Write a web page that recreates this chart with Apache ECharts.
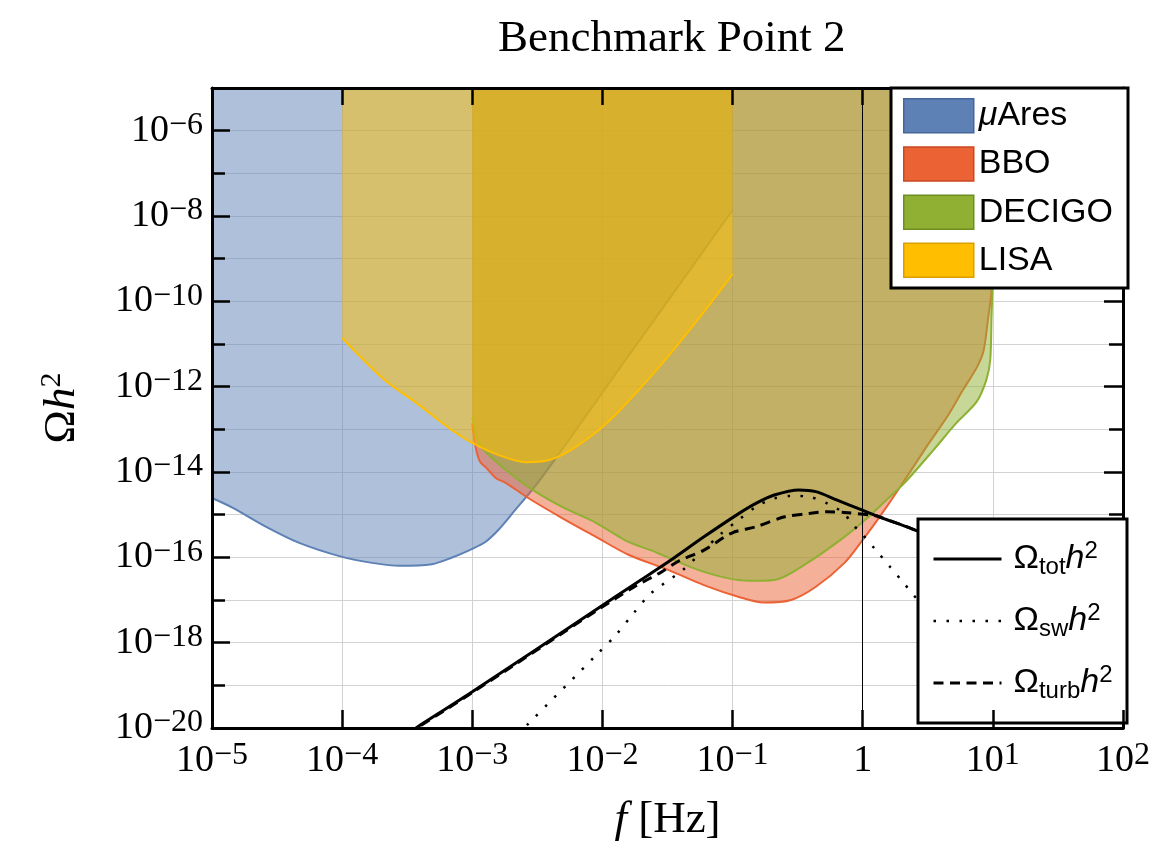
<!DOCTYPE html>
<html>
<head>
<meta charset="utf-8">
<script src="https://cdn.jsdelivr.net/npm/echarts@6/dist/echarts.min.js"></script>
<style>
  html, body { margin: 0; padding: 0; background: #fff; }
  #chart { width: 1153px; height: 850px; }
</style>
</head>
<body>
<div id="chart"></div>
<script>
// All values are decimal logarithms: log10(f / Hz) and log10(Omega h^2).

// Detector sensitivity boundaries (region above each curve is accessible)
const muAresLogF     = [-5.0, -4.84, -4.58, -4.33, -4.0, -3.77, -3.56, -3.31, -3.16, -3.0, -2.90, -2.80, -2.67, -2.54, -2.44, -2.2, -1.88, -1.50, -1.0];
const muAresLogOmega = [-14.61, -14.84, -15.29, -15.66, -15.99, -16.13, -16.20, -16.16, -16.01, -15.80, -15.64, -15.36, -14.89, -14.42, -14.02, -13.0, -11.62, -10.0, -7.86];

const bboLogF     = [-3.0, -2.975, -2.94, -2.89, -2.82, -2.74, -2.57, -2.31, -2.05, -1.80, -1.49, -1.22, -0.95, -0.76, -0.55, -0.36, -0.14, 0.0, 0.13, 0.29, 0.49, 0.65, 0.77, 0.88, 0.93, 0.965, 0.99, 1.0];
const bboLogOmega = [-12.86, -13.41, -13.76, -13.91, -14.14, -14.26, -14.61, -15.08, -15.52, -15.94, -16.30, -16.65, -16.93, -17.06, -17.0, -16.69, -16.13, -15.59, -15.05, -14.34, -13.41, -12.70, -12.08, -11.53, -11.14, -10.36, -9.73, -7.6];

const decigoLogF     = [-3.0, -2.95, -2.85, -2.57, -2.31, -2.05, -1.80, -1.63, -1.22, -0.87, -0.68, -0.41, -0.14, 0.02, 0.18, 0.32, 0.545, 0.72, 0.876, 0.95, 0.98, 0.99, 0.996, 1.0];
const decigoLogOmega = [-12.71, -13.32, -13.67, -14.35, -14.82, -15.19, -15.64, -15.83, -16.34, -16.55, -16.53, -16.10, -15.52, -15.12, -14.66, -14.26, -13.48, -12.85, -12.35, -11.84, -11.37, -10.36, -9.73, -7.6];

const lisaLogF     = [-4.0, -3.676, -3.43, -3.18, -3.0, -2.80, -2.59, -2.41, -2.24, -2.03, -1.88, -1.57, -1.27, -1.0];
const lisaLogOmega = [-10.86, -11.84, -12.38, -12.97, -13.32, -13.60, -13.77, -13.72, -13.48, -13.02, -12.60, -11.56, -10.44, -9.36];

// Gravitational-wave spectra: total, sound waves, turbulence
const totLogF     = [-3.5, -3.424, -3.0, -2.03, -1.76, -1.49, -1.22, -0.95, -0.817, -0.68, -0.49, -0.36, -0.196, -0.007, 0.126, 0.262, 0.37, 0.45];
const totLogOmega = [-20.13, -19.98, -19.15, -17.19, -16.64, -16.10, -15.52, -14.97, -14.73, -14.54, -14.42, -14.46, -14.66, -14.89, -15.05, -15.20, -15.32, -15.42];

const swLogF     = [-2.65, -2.592, -2.031, -1.897, -1.761, -1.626, -1.383, -1.249, -1.086, -0.953, -0.817, -0.682, -0.547, -0.412, -0.277, -0.142, -0.088, -0.021, 0.101, 0.209, 0.317, 0.379, 0.45];
const swLogOmega = [-20.15, -19.97, -18.24, -17.82, -17.31, -16.84, -16.30, -15.91, -15.44, -15.12, -14.81, -14.62, -14.56, -14.58, -14.73, -14.97, -15.20, -15.40, -15.83, -16.22, -16.61, -16.84, -17.1];

const turbLogF     = [-3.5, -3.424, -3.0, -2.03, -1.76, -1.545, -1.41, -1.22, -1.006, -0.817, -0.60, -0.41, -0.28, -0.14, 0.07, 0.126, 0.262, 0.37, 0.45];
const turbLogOmega = [-20.15, -20.0, -19.17, -17.22, -16.70, -16.34, -16.08, -15.83, -15.43, -15.28, -15.05, -14.97, -14.93, -14.95, -15.01, -15.05, -15.20, -15.32, -15.42];

// Axis ranges (decades)
const logFRange = [-5, 2];
const logOmegaRange = [-20, -5];

const detectorNames = ['\u03bcAres', 'BBO', 'DECIGO', 'LISA'];
const spectrumNames = ['tot', 'sw', 'turb'];

const SERIF = 'Liberation Serif';
const SANS = 'Liberation Sans';

function pairs(xs, ys) { return xs.map((x, i) => [x, ys[i]]); }

const tickRich = {
  b: { fontFamily: SERIF, fontSize: 38, lineHeight: 42, color: '#000' },
  e: { fontFamily: SERIF, fontSize: 32, lineHeight: 26, verticalAlign: 'top', color: '#000' }
};
function powLabel(v) {
  v = Math.round(v);
  if (v === 0) return '{b|1}';
  return '{b|10}{e|' + (v < 0 ? '\u2212' + (-v) : String(v)) + '}';
}

const detectorColors = ['#5E81B5', '#EB6235', '#8FB032', '#FFBF00'];
const detectorBorders = ['#46669A', '#C94820', '#6F8E22', '#D9A000'];

// stacking order of the translucent regions: later ones paint over earlier ones
function detectorSeries(name, xs, ys, color, z) {
  return {
    name: name, type: 'line', xAxisIndex: 0, yAxisIndex: 0,
    data: pairs(xs, ys), symbol: 'none', smooth: 0.3, silent: true, z: z,
    lineStyle: { color: color, width: 2 },
    itemStyle: { color: color },
    areaStyle: { origin: 'end', color: color, opacity: 0.5 }
  };
}
function spectrumSeries(name, xs, ys, type, width) {
  return {
    name: name, type: 'line', xAxisIndex: 0, yAxisIndex: 0,
    data: pairs(xs, ys), symbol: 'none', smooth: 0.3, silent: true, z: 6,
    lineStyle: { color: '#000', width: width, type: type, cap: 'butt' },
    itemStyle: { color: '#000' }
  };
}

const frame = { color: '#000', width: 3 };
const tickStyle = { color: '#000', width: 2.5 };
const gridStyle = { color: '#d2d2d2', width: 1 };
const dotPattern = [2.5, 10.5];
const dashPattern = [10, 6.5];

const option = {
  animation: false,
  backgroundColor: '#fff',
  title: {
    text: 'Benchmark Point 2', left: 493, top: 12,
    textStyle: { fontFamily: SERIF, fontSize: 45, fontWeight: 'normal', color: '#000' }
  },
  grid: { left: 212, top: 88, right: 25, bottom: 122 },
  xAxis: [
    { // bottom frame with ticks, labels and title
      type: 'value', min: logFRange[0], max: logFRange[1], interval: 1, position: 'bottom', z: 10,
      axisLine: { show: true, onZero: false, lineStyle: frame },
      axisTick: { show: true, inside: true, length: 18, lineStyle: tickStyle },
      axisLabel: { margin: 12, formatter: powLabel, rich: tickRich },
      splitLine: { show: false },
      name: '{i|f} [Hz]', nameLocation: 'middle', nameGap: 70,
      nameTextStyle: { fontFamily: SERIF, fontSize: 45, color: '#000',
        rich: { i: { fontFamily: SERIF, fontStyle: 'italic', fontSize: 45, color: '#000' } } }
    },
    { // top frame
      type: 'value', min: logFRange[0], max: logFRange[1], interval: 1, position: 'top', z: 5,
      axisLine: { show: true, onZero: false, lineStyle: frame },
      axisTick: { show: true, inside: true, length: 17, lineStyle: tickStyle },
      axisLabel: { show: false }, splitLine: { show: false }
    },
    { // vertical grid lines
      type: 'value', min: logFRange[0], max: logFRange[1], interval: 1, position: 'bottom', z: 0,
      axisLine: { show: false, onZero: false }, axisTick: { show: false }, axisLabel: { show: false },
      splitLine: { show: true, lineStyle: gridStyle }
    }
  ],
  yAxis: [
    { // horizontal grid lines
      type: 'value', min: logOmegaRange[0], max: logOmegaRange[1], interval: 1, position: 'left', z: 0,
      axisLine: { show: false, onZero: false }, axisTick: { show: false }, axisLabel: { show: false },
      splitLine: { show: true, lineStyle: gridStyle }
    },
    { // left frame, every decade
      type: 'value', min: logOmegaRange[0], max: logOmegaRange[1], interval: 1, position: 'left', z: 10,
      axisLine: { show: true, onZero: false, lineStyle: frame },
      axisTick: { show: true, inside: true, length: 13, lineStyle: tickStyle },
      axisLabel: { show: false }, splitLine: { show: false }
    },
    { // left, labelled decades
      type: 'value', min: logOmegaRange[0], max: logOmegaRange[1], interval: 2, position: 'left', z: 10,
      axisLine: { show: false, onZero: false },
      axisTick: { show: true, inside: true, length: 18, lineStyle: tickStyle },
      axisLabel: { margin: 9, formatter: v => (Math.round(v) % 2 === 0 ? powLabel(v) : ''), rich: tickRich },
      splitLine: { show: false },
      name: '{o|\u03a9}{h|h}{s|2}', nameLocation: 'middle', nameGap: 125,
      nameTextStyle: { fontFamily: SERIF, fontSize: 45, color: '#000',
        rich: {
          o: { fontFamily: SERIF, fontSize: 45, lineHeight: 50, color: '#000' },
          h: { fontFamily: SERIF, fontStyle: 'italic', fontSize: 45, lineHeight: 50, color: '#000' },
          s: { fontFamily: SERIF, fontSize: 30, lineHeight: 30, verticalAlign: 'top', color: '#000' }
        } }
    },
    { // right frame, every decade
      type: 'value', min: logOmegaRange[0], max: logOmegaRange[1], interval: 1, position: 'right', z: 0,
      axisLine: { show: true, onZero: false, lineStyle: frame },
      axisTick: { show: true, inside: true, length: 14, lineStyle: tickStyle },
      axisLabel: { show: false }, splitLine: { show: false }
    },
    { // right, even decades
      type: 'value', min: logOmegaRange[0], max: logOmegaRange[1], interval: 2, position: 'right', z: 0,
      axisLine: { show: false, onZero: false },
      axisTick: { show: true, inside: true, length: 19, lineStyle: tickStyle },
      axisLabel: { show: false }, splitLine: { show: false }
    },
    { // axis through f = 1 Hz
      type: 'value', min: logOmegaRange[0], max: logOmegaRange[1], position: 'left', z: 5,
      axisLine: { show: true, onZero: true, onZeroAxisIndex: 0, lineStyle: { color: '#000', width: 1 } },
      axisTick: { show: false }, axisLabel: { show: false }, splitLine: { show: false }
    }
  ],
  graphic: [
    { type: 'rect', z: 7, silent: true, shape: { x: 891, y: 88, width: 237, height: 200 },
      style: { fill: '#fff', stroke: '#000', lineWidth: 3 } },
    { type: 'rect', z: 7, silent: true, shape: { x: 918, y: 519, width: 209, height: 204 },
      style: { fill: '#fff', stroke: '#000', lineWidth: 3 } }
  ],
  legend: [
    {
      data: detectorNames.map((n, i) => ({
        name: n, icon: 'rect',
        itemStyle: { color: detectorColors[i], borderColor: detectorBorders[i], borderWidth: 1.5, opacity: 1 }
      })),
      orient: 'vertical', left: 903, top: 98, padding: 0,
      itemWidth: 70, itemHeight: 34, itemGap: 12.7, selectedMode: false, z: 12,
      formatter: n => (n === detectorNames[0] ? '{i|\u03bc}Ares' : n),
      textStyle: { fontFamily: SANS, fontSize: 34, lineHeight: 34, color: '#000',
        rich: { i: { fontFamily: SANS, fontStyle: 'italic', fontSize: 34, lineHeight: 34, color: '#000' } } }
    },
    {
      data: spectrumNames.map(n => ({ name: n, itemStyle: { opacity: 0, borderWidth: 0 } })),
      orient: 'vertical', left: 932, top: 539, padding: 0,
      itemWidth: 68, itemHeight: 40, itemGap: 22, selectedMode: false, z: 12,
      lineStyle: { width: 'inherit', type: 'inherit', color: 'inherit', cap: 'butt' },
      formatter: n => '{o|\u03a9}{s|' + n + '}{h|h}{p|2}',
      textStyle: { fontFamily: SANS, fontSize: 34, lineHeight: 40, color: '#000',
        rich: {
          o: { fontFamily: SANS, fontSize: 34, lineHeight: 40, padding: [0, 0, 0, 7], color: '#000' },
          s: { fontFamily: SANS, fontSize: 24, lineHeight: 24, verticalAlign: 'bottom', color: '#000' },
          h: { fontFamily: SANS, fontStyle: 'italic', fontSize: 34, lineHeight: 40, color: '#000' },
          p: { fontFamily: SANS, fontSize: 24, lineHeight: 22, verticalAlign: 'top', color: '#000' }
        } }
    }
  ],
  series: [
    detectorSeries(detectorNames[0], muAresLogF, muAresLogOmega, detectorColors[0], 1),
    detectorSeries(detectorNames[1], bboLogF, bboLogOmega, detectorColors[1], 2),
    detectorSeries(detectorNames[2], decigoLogF, decigoLogOmega, detectorColors[2], 3),
    detectorSeries(detectorNames[3], lisaLogF, lisaLogOmega, detectorColors[3], 4),
    spectrumSeries('sw', swLogF, swLogOmega, dotPattern, 2.5),
    spectrumSeries('turb', turbLogF, turbLogOmega, dashPattern, 3),
    spectrumSeries('tot', totLogF, totLogOmega, 'solid', 3)
  ]
};

const chart = echarts.init(document.getElementById('chart'), null, { renderer: 'canvas' });
chart.setOption(option);
</script>
</body>
</html>
